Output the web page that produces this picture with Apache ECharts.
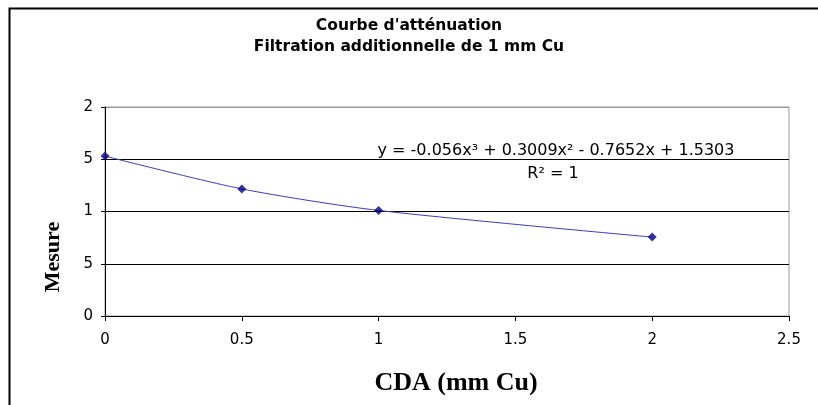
<!DOCTYPE html>
<html><head><meta charset="utf-8">
<script src="https://cdn.jsdelivr.net/npm/echarts@6/dist/echarts.min.js"></script>
<style>html,body{margin:0;padding:0;background:#fff}#c{width:818px;height:405px}</style>
</head><body><div id="c"></div>
<script>
var titleLines = ["Courbe d'atténuation", "Filtration additionnelle de 1 mm Cu"];
var xValues = [0, 0.5, 1, 2];
var yValues = [1.53, 1.216, 1.01, 0.755];
var yTickLabels = ["0", "5", "1", "5", "2"];
var xTickLabels = ["0", "0.5", "1", "1.5", "2", "2.5"];
var equationText = "y = -0.056x³ + 0.3009x² - 0.7652x + 1.5303";
var r2Text = "R² = 1";
var xName = "CDA (mm Cu)";
var yName = "Mesure";

var chart = echarts.init(document.getElementById('c'), null, {renderer: 'canvas'});
var pts = xValues.map(function (x, i) { return [x, yValues[i]]; });
chart.setOption({
  animation: false,
  backgroundColor: '#fff',
  title: {
    text: titleLines.join('\n'), left: 'center', top: 10,
    textStyle: {fontFamily: 'DejaVu Sans', fontWeight: 'bold', fontSize: 15.5, lineHeight: 21, color: '#000'}
  },
  grid: {left: 105, right: 29, top: 107, bottom: 89, show: true, borderColor: '#999', borderWidth: 1, backgroundColor: 'transparent'},
  xAxis: {
    type: 'value', min: 0, max: 2.5, interval: 0.5,
    axisLine: {show: true, lineStyle: {color: '#000', width: 1}},
    axisTick: {show: true, length: 5, lineStyle: {color: '#000'}},
    splitLine: {show: false},
    axisLabel: {margin: 17, fontFamily: 'DejaVu Sans', fontSize: 15, color: '#000',
      formatter: function (v) { return xTickLabels[Math.round(v / 0.5)]; }}
  },
  yAxis: {
    type: 'value', min: 0, max: 2, interval: 0.5,
    axisLine: {show: true, lineStyle: {color: '#000', width: 1}},
    axisTick: {show: true, length: 4, lineStyle: {color: '#000'}},
    splitLine: {show: true, lineStyle: {color: ['#000', '#000', '#000', '#000', '#999'], width: 1}},
    axisLabel: {margin: 12, fontFamily: 'DejaVu Sans', fontSize: 15, color: '#000',
      formatter: function (v) { return yTickLabels[Math.round(v / 0.5)]; }}
  },
  series: [
    {type: 'line', data: pts, smooth: 0.25, symbol: 'none', lineStyle: {color: '#3a3ac8', width: 1}, z: 2},
    {type: 'scatter', data: pts, symbol: 'diamond', symbolSize: 9, itemStyle: {color: '#000080'}, z: 3}
  ],
  graphic: [
    {type: 'rect', left: 7, top: 6, shape: {width: 830, height: 420}, style: {fill: 'none', stroke: '#000', lineWidth: 2}, silent: true, z: -1},
    {type: 'text', x: 556, y: 151, style: {text: equationText, textAlign: 'center', textVerticalAlign: 'middle', font: '16px "DejaVu Sans"', fill: '#000'}},
    {type: 'text', x: 553, y: 174, style: {text: r2Text, textAlign: 'center', textVerticalAlign: 'middle', font: '16px "DejaVu Sans"', fill: '#000'}},
    {type: 'text', x: 456, y: 383, style: {text: xName, textAlign: 'center', textVerticalAlign: 'middle', font: 'bold 26px "Liberation Serif"', fill: '#000'}},
    {type: 'text', x: 53, y: 257, rotation: Math.PI / 2, style: {text: yName, textAlign: 'center', textVerticalAlign: 'middle', font: 'bold 22px "Liberation Serif"', fill: '#000'}}
  ]
});
</script></body></html>
